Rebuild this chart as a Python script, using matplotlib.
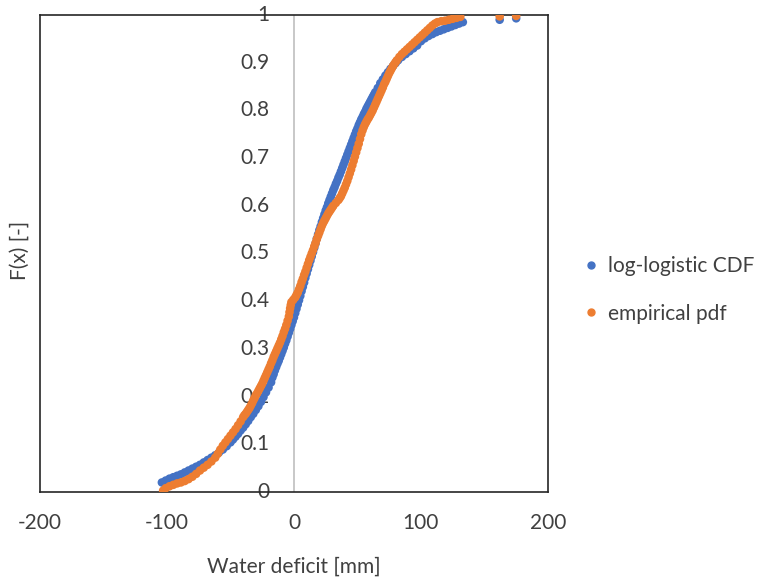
import matplotlib
matplotlib.use('Agg')
import matplotlib.pyplot as plt
from matplotlib.lines import Line2D

plt.rcParams['font.family'] = ['Lato', 'DejaVu Sans']

# Empirical distribution of the water deficit
emp_x = [-103, -101, -98, -95, -92, -89, -86, -83, -80, -77, -74, -71, -68, -65, -62, -60,
         -58, -56, -54, -52, -50, -48, -46, -44, -42, -40, -39, -38, -37, -36, -35, -34,
         -33, -32, -31, -30, -29, -28, -27, -26, -25, -24, -23, -22, -21, -20, -19, -18,
         -17, -16, -15, -14, -13, -12, -11, -10, -9, -8, -7, -6, -5, -4, -3.5, -3,
         -2.5, -2, -0.5, 1, 2, 3, 4, 5, 6, 7, 8, 9, 10, 11, 12, 13,
         14, 15, 16, 17, 18, 19, 20, 21, 22, 23, 24, 25, 26, 27, 28, 29,
         30, 31, 33, 35, 36, 37, 38, 39, 40, 41, 42, 43, 44, 45, 46, 47,
         48, 49, 50, 51, 52, 53, 54, 55, 56, 57, 58, 59, 60, 61, 62, 63,
         64, 65, 66, 67, 68, 69, 70, 71, 72, 73, 74, 75, 76, 77, 78, 79,
         80, 81, 83, 85, 87, 89, 91, 93, 95, 97, 99, 101, 103, 105, 107, 109,
         111, 113, 116, 119, 122, 125, 128, 131, 162, 175]
emp_y = [0.003, 0.008, 0.012, 0.015, 0.018, 0.020, 0.023, 0.027, 0.032, 0.038, 0.045, 0.051, 0.057, 0.064, 0.072, 0.080,
         0.089, 0.097, 0.104, 0.111, 0.118, 0.125, 0.132, 0.140, 0.148, 0.157, 0.161, 0.164, 0.168, 0.172, 0.176, 0.181,
         0.186, 0.192, 0.197, 0.203, 0.207, 0.212, 0.217, 0.222, 0.227, 0.233, 0.239, 0.245, 0.251, 0.257, 0.263, 0.270,
         0.276, 0.283, 0.289, 0.295, 0.301, 0.307, 0.313, 0.320, 0.327, 0.335, 0.342, 0.350, 0.359, 0.368, 0.377, 0.385,
         0.392, 0.398, 0.403, 0.408, 0.413, 0.418, 0.425, 0.432, 0.440, 0.447, 0.455, 0.462, 0.470, 0.478, 0.486, 0.493,
         0.500, 0.507, 0.515, 0.522, 0.530, 0.537, 0.544, 0.551, 0.558, 0.564, 0.569, 0.574, 0.579, 0.584, 0.588, 0.592,
         0.596, 0.600, 0.606, 0.612, 0.616, 0.620, 0.626, 0.632, 0.638, 0.645, 0.652, 0.660, 0.668, 0.676, 0.685, 0.694,
         0.703, 0.712, 0.721, 0.730, 0.740, 0.750, 0.758, 0.765, 0.771, 0.776, 0.781, 0.785, 0.790, 0.795, 0.800, 0.806,
         0.812, 0.818, 0.824, 0.830, 0.836, 0.842, 0.848, 0.855, 0.860, 0.866, 0.872, 0.878, 0.883, 0.888, 0.893, 0.897,
         0.901, 0.905, 0.912, 0.918, 0.923, 0.928, 0.933, 0.938, 0.943, 0.948, 0.953, 0.958, 0.963, 0.968, 0.973, 0.978,
         0.982, 0.985, 0.987, 0.988, 0.990, 0.992, 0.994, 0.996, 0.997, 0.998]

# Fitted log-logistic CDF over the same deficits
fit_x = [-104, -101, -98, -95, -92, -89, -86, -83, -80, -77, -74, -71, -68, -65, -62, -59,
         -56, -53, -50, -48, -46, -44, -42, -40, -38, -36, -34, -32, -30, -28, -26, -24,
         -22, -20, -18, -17, -16, -15, -14, -13, -12, -11, -10, -9, -8, -7, -6, -5,
         -4, -3, -2, -1, 0, 1, 2, 3, 4, 5, 6, 7, 8, 9, 10, 11,
         12, 13, 14, 15, 16, 17, 18, 19, 20, 21, 22, 23, 24, 25, 26, 27,
         28, 29, 30, 31, 32, 33, 34, 35, 36, 37, 38, 39, 40, 41, 42, 43,
         44, 45, 46, 47, 48, 49, 50, 51, 52, 53, 54, 55, 56, 57, 58, 59,
         60, 61, 62, 63, 64, 66, 68, 70, 72, 74, 76, 78, 80, 82, 85, 88,
         91, 94, 97, 100, 103, 106, 109, 112, 115, 118, 121, 124, 127, 130, 133, 162,
         175]
fit_y = [0.020, 0.024, 0.028, 0.031, 0.034, 0.037, 0.041, 0.045, 0.049, 0.053, 0.057, 0.062, 0.067, 0.072, 0.077, 0.083,
         0.089, 0.096, 0.104, 0.110, 0.116, 0.122, 0.129, 0.135, 0.142, 0.149, 0.157, 0.164, 0.172, 0.180, 0.189, 0.199,
         0.209, 0.219, 0.230, 0.240, 0.247, 0.255, 0.262, 0.269, 0.275, 0.282, 0.289, 0.296, 0.303, 0.311, 0.318, 0.326,
         0.334, 0.342, 0.350, 0.358, 0.366, 0.375, 0.384, 0.393, 0.402, 0.411, 0.421, 0.430, 0.439, 0.449, 0.458, 0.467,
         0.476, 0.485, 0.494, 0.503, 0.512, 0.521, 0.531, 0.540, 0.549, 0.557, 0.566, 0.574, 0.582, 0.590, 0.597, 0.605,
         0.612, 0.619, 0.626, 0.633, 0.639, 0.646, 0.652, 0.659, 0.665, 0.672, 0.679, 0.686, 0.693, 0.700, 0.707, 0.714,
         0.721, 0.728, 0.735, 0.742, 0.749, 0.756, 0.762, 0.769, 0.775, 0.781, 0.786, 0.792, 0.797, 0.803, 0.808, 0.813,
         0.818, 0.823, 0.828, 0.833, 0.838, 0.847, 0.857, 0.865, 0.873, 0.880, 0.887, 0.893, 0.899, 0.905, 0.912, 0.918,
         0.924, 0.930, 0.936, 0.945, 0.951, 0.956, 0.960, 0.964, 0.967, 0.970, 0.973, 0.976, 0.979, 0.982, 0.985, 0.990,
         0.993]

x_ticks = [-200, -100, 0, 100, 200]
y_ticks = [0, 0.1, 0.2, 0.3, 0.4, 0.5, 0.6, 0.7, 0.8, 0.9, 1]
y_tick_labels = ['0', '0.1', '0.2', '0.3', '0.4', '0.5', '0.6', '0.7', '0.8', '0.9', '1']

blue = '#4472C4'
orange = '#ED7D31'
text_col = '#404040'
fs = 15

fig = plt.figure(figsize=(7.7, 5.83), dpi=100)
ax = fig.add_axes([0.0519, 0.1561, 0.6597, 0.8182])

ax.scatter(fit_x, fit_y, s=38, color=blue, edgecolors='none', zorder=3)
ax.scatter(emp_x, emp_y, s=38, color=orange, edgecolors='none', zorder=4)

ax.set_xlim(-200, 200)
ax.set_ylim(0, 1)

# vertical axis crossing at zero
ax.axvline(0, color='#BFBFBF', lw=1.2, zorder=1)

for s in ax.spines.values():
    s.set_color('#262626')
    s.set_linewidth(1.2)

ax.set_xticks(x_ticks)
ax.set_xticklabels([str(v) for v in x_ticks])
ax.tick_params(axis='x', length=0, pad=15, labelsize=fs, labelcolor=text_col)
ax.set_yticks([])

# y tick labels sit to the left of the zero line
for v, lab in zip(y_ticks, y_tick_labels):
    ax.text(-19, v, lab, ha='right', va='center', fontsize=fs, color=text_col, zorder=2)

ax.set_xlabel('Water deficit [mm]', fontsize=fs, color=text_col, labelpad=17)
fig.text(0.026, 0.571, 'F(x) [-]', rotation=90, ha='center', va='center', fontsize=fs, color=text_col)

handles = [Line2D([], [], ls='none', marker='o', markersize=5, color=blue),
           Line2D([], [], ls='none', marker='o', markersize=5, color=orange)]
fig.legend(handles, ['log-logistic CDF', 'empirical pdf'], loc='center left',
           bbox_to_anchor=(0.730, 0.5026), frameon=False, fontsize=fs,
           labelspacing=1.3, handletextpad=0.3, handlelength=1.0, labelcolor=text_col)

fig.savefig('out.png', dpi=100)
